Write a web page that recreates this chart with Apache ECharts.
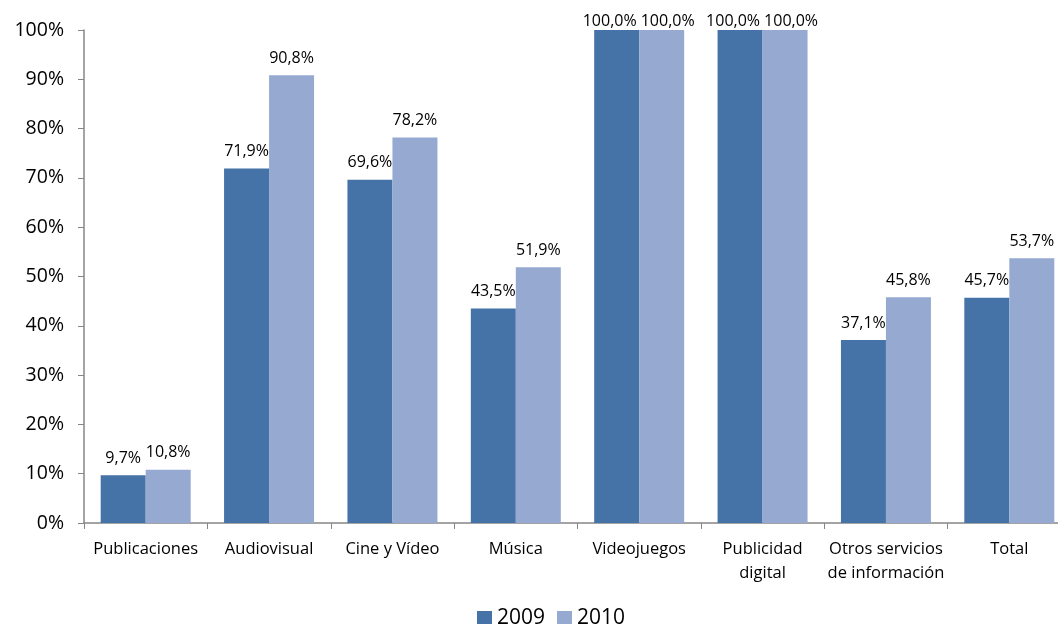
<!DOCTYPE html>
<html><head><meta charset="utf-8">
<script src="https://cdn.jsdelivr.net/npm/echarts@6/dist/echarts.min.js"></script>
<style>html,body{margin:0;padding:0;background:#fff;overflow:hidden}#c{width:1071px;height:624px}</style>
</head><body><div id="c"></div>
<script>
const categories = ['Publicaciones','Audiovisual','Cine y Vídeo','Música','Videojuegos','Publicidad\ndigital','Otros servicios\nde información','Total'];
const series2009 = [9.7, 71.9, 69.6, 43.5, 100, 100, 37.1, 45.7];
const series2010 = [10.8, 90.8, 78.2, 51.9, 100, 100, 45.8, 53.7];
const yTicks = [0,10,20,30,40,50,60,70,80,90,100];
const font = 'Open Sans, Noto Sans, sans-serif';
const fmt = v => v.toFixed(1).replace('.', ',') + '%';
const chart = echarts.init(document.getElementById('c'));
const lbl = {show:true, position:'top', distance:9, color:'#000', fontFamily:font, fontSize:16, formatter:p=>fmt(p.value)};
// Excel nudges touching labels apart and keeps them inside the chart at full height
const withNudge = (arr, dx) => arr.map(v => v >= 100 ? {value:v, label:{offset:[dx,8]}} : v);
chart.setOption({
  animation:false,
  textStyle:{fontFamily:font},
  grid:{left:84, top:30, right:0, bottom:101, containLabel:false},
  legend:{top:603, left:472, itemWidth:15, itemHeight:15, itemGap:12, icon:'rect',
    textStyle:{fontSize:21, color:'#000', fontFamily:font}, data:['2009','2010']},
  xAxis:{type:'category', data:categories,
    axisLine:{lineStyle:{color:'#868686', width:1.5}},
    axisTick:{show:true, length:6, lineStyle:{color:'#868686'}},
    axisLabel:{color:'#000', fontSize:16.5, fontFamily:font, margin:14, lineHeight:24, interval:0}},
  yAxis:{type:'value', min:0, max:100, interval:10,
    axisLine:{show:true, lineStyle:{color:'#868686', width:1.5}},
    axisTick:{show:true, length:6, lineStyle:{color:'#868686'}},
    splitLine:{show:false},
    axisLabel:{color:'#000', fontSize:19.5, fontFamily:font, margin:20, formatter:v=>yTicks.includes(v)?v+'%':''}},
  series:[
    {name:'2009', type:'bar', data:withNudge(series2009,-7), barWidth:45, barGap:'0%', itemStyle:{color:'#4572A7'}, label:lbl},
    {name:'2010', type:'bar', data:withNudge(series2010,6), barWidth:45, barGap:'0%', itemStyle:{color:'#95A9D1'}, label:lbl}
  ]
});
</script></body></html>
